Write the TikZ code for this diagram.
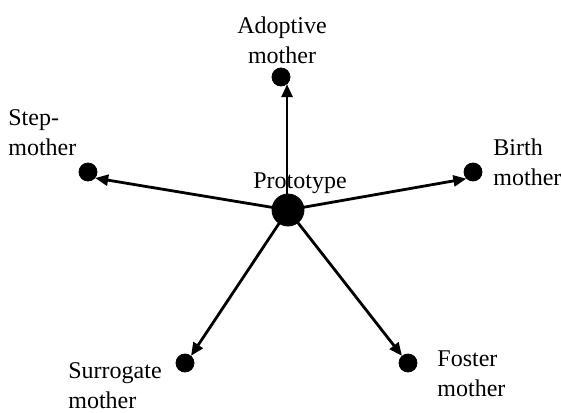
\documentclass[tikz,border=0pt]{standalone}
\usepackage{fontspec}
\setmainfont{Liberation Serif}
\usetikzlibrary{arrows.meta}
\begin{document}
\begin{tikzpicture}[x=0.5pt,y=-0.5pt]
    \tikzset{
        dot/.style={draw, fill=black, circle, inner sep=0pt, minimum size=9pt},
        bigdot/.style={draw, fill=black, circle, inner sep=0pt, minimum size=16pt},
        lbl/.style={inner sep=0pt, align=left, font=\fontsize{12}{15}\selectfont},
        arc/.style={-{Triangle[length=6.5pt,width=5.5pt]}, line width=1.4pt}
    }
    \useasboundingbox (0,0) rectangle (561,412);
    \draw node[bigdot] (proto) at (288,210) {};
    \draw node[dot] (adopt) at (281,77) {};
    \draw node[dot] (step) at (88,172) {};
    \draw node[dot] (birth) at (473,172) {};
    \draw node[dot] (surr) at (185,363) {};
    \draw node[dot] (foster) at (408,363) {};
    \node[lbl, anchor=base west] (protolbl) at (253,188) {Prototype};
    \node[lbl, align=center, anchor=base] (adoptlbl) at (282,63) {Adoptive\\mother};
    \node[lbl, anchor=base west] (steplbl) at (8,155) {Step-\\mother};
    \node[lbl, anchor=base west] (birthlbl) at (493,185) {Birth\\mother};
    \node[lbl, anchor=base west] (surrlbl) at (68,408) {Surrogate\\mother};
    \node[lbl, anchor=base west] (fosterlbl) at (437,396) {Foster\\mother};
    \draw (adopt.-50 |- proto.center) edge[arc] (adopt.-50);
    \foreach \x/\a in {step/-40,birth/-135,surr/50,foster/130}
    {
        \draw (proto.center) edge[arc] (\x.\a);
    }
\end{tikzpicture}
\end{document}
